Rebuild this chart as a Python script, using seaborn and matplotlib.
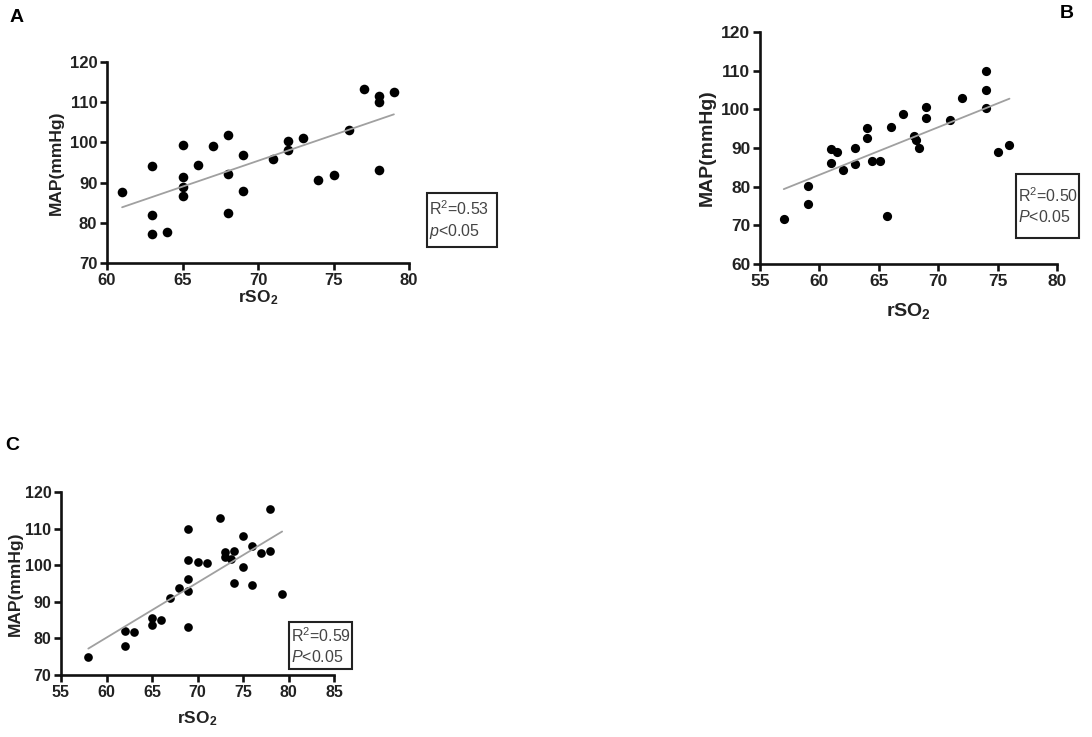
import numpy as np
import pandas as pd
import seaborn as sns
import matplotlib.pyplot as plt

# output
OUT_FILE = "out.png"
W_PX, H_PX, DPI = 1092, 737, 100

# Panel A data (rSO2 vs MAP)
A_RSO2 = [61, 63, 63, 63, 64, 65, 65, 65, 65, 66, 67, 68, 68, 68, 69, 69, 71,
          72, 72, 73, 74, 75, 76, 77, 78, 78, 78, 79]
A_MAP = [87.6, 94.2, 82.0, 77.3, 77.6, 99.3, 91.4, 88.8, 86.6, 94.5, 99.1, 101.8,
         92.1, 82.5, 96.9, 88.0, 95.9, 100.3, 98.2, 101.0, 90.7, 91.8, 103.1, 113.3,
         111.6, 110.1, 93.2, 112.6]

# Panel B data
B_RSO2 = [57, 59, 59, 61, 61, 61.5, 62, 63, 63, 64, 64, 64.4, 65.1, 65.7, 66, 67,
          68, 68.1, 68.4, 69, 69, 71, 72, 74, 74, 74, 75, 76]
B_MAP = [71.6, 80.2, 75.6, 89.8, 86.1, 88.9, 84.3, 90.0, 85.8, 95.2, 92.6, 86.6,
         86.6, 72.3, 95.4, 98.9, 93.0, 92.0, 90.1, 100.6, 97.8, 97.3, 102.9, 110.0,
         104.9, 100.4, 88.9, 90.9]

# Panel C data
C_RSO2 = [58, 62, 62, 63, 65, 65, 66, 67, 68, 69, 69, 69, 69, 69, 70, 71, 72.5,
          73, 73, 73.7, 74, 74, 75, 75, 76, 76, 77, 78, 78, 79.3]
C_MAP = [74.8, 81.9, 77.9, 81.7, 85.5, 83.6, 85.0, 91.0, 93.9, 109.8, 101.4, 96.2,
         92.9, 83.2, 101.0, 100.6, 113.0, 103.6, 102.2, 101.7, 103.9, 95.2, 108.1,
         99.4, 105.2, 94.5, 103.4, 115.3, 103.8, 92.2]

STATS = {"A": ("0.53", "p"), "B": ("0.50", "P"), "C": ("0.59", "P")}

sns.set_style("ticks")
plt.rcParams["font.family"] = ["Liberation Sans", "DejaVu Sans"]
plt.rcParams["mathtext.fontset"] = "custom"
plt.rcParams["mathtext.rm"] = "Liberation Sans"
plt.rcParams["mathtext.it"] = "Liberation Sans:italic"
plt.rcParams["mathtext.bf"] = "Liberation Sans:bold"


def px_rect(left, top, right, bottom):
    # pixel box -> figure fraction [l, b, w, h]
    return [left / W_PX, 1 - bottom / H_PX, (right - left) / W_PX, (bottom - top) / H_PX]


def draw_panel(fig, rect, xs, ys, xlim, ylim, xstep, fs, lfs, dot, key, box, xlab_y, ypad=4):
    ax = fig.add_axes(rect)
    df = pd.DataFrame({"rSO2": xs, "MAP": ys})
    sns.regplot(data=df, x="rSO2", y="MAP", ax=ax, ci=None,
                scatter_kws=dict(s=dot, color="black", linewidths=0, alpha=1),
                line_kws=dict(color="#a0a0a0", lw=1.3))
    ax.set_xlim(*xlim)
    ax.set_ylim(*ylim)
    ax.set_xticks(np.arange(xlim[0], xlim[1] + 1, xstep))
    ax.set_yticks(np.arange(ylim[0], ylim[1] + 1, 10))
    for s in ["top", "right"]:
        ax.spines[s].set_visible(False)
    for s in ["left", "bottom"]:
        ax.spines[s].set_linewidth(1.9)
        ax.spines[s].set_color("#111111")
    ax.tick_params(width=1.9, length=5, color="#111111", labelsize=fs, pad=2)
    for lab in ax.get_xticklabels() + ax.get_yticklabels():
        lab.set_fontweight("bold")
        lab.set_color("#222222")
    ax.set_xlabel("")
    ax.set_ylabel("MAP(mmHg)", fontsize=lfs, fontweight="bold", color="#222222", labelpad=ypad)
    # x label placed in figure pixels
    x0, x1 = rect[0] * W_PX, (rect[0] + rect[2]) * W_PX
    fig.text((x0 + x1) / 2 / W_PX, 1 - xlab_y / H_PX, r"$\mathbf{rSO_2}$",
             ha="center", va="center", fontsize=lfs, color="#222222")
    r2, p = STATS[key]
    bl, bt, br, bb = box
    fig.text((bl + 2) / W_PX, 1 - (bt + bb) / 2 / H_PX,
             "R$^2$=" + r2 + "\n" + "$\\it{" + p + "}$<0.05",
             ha="left", va="center", fontsize=11.5, color="#444444", linespacing=1.3)
    fig.patches.append(plt.Rectangle((bl / W_PX, 1 - bb / H_PX), (br - bl) / W_PX, (bb - bt) / H_PX,
                                     transform=fig.transFigure, fill=False, ec="#222222", lw=1.5))
    return ax


fig = plt.figure(figsize=(W_PX / DPI, H_PX / DPI), dpi=DPI)
fig.patch.set_facecolor("white")

draw_panel(fig, px_rect(107, 62, 409, 263), A_RSO2, A_MAP, (60, 80), (70, 120), 5,
           12, 12.5, 48, "A", (427, 193, 497, 247), 298)
draw_panel(fig, px_rect(760, 32, 1057, 264), B_RSO2, B_MAP, (55, 80), (60, 120), 5,
           12.5, 14, 44, "B", (1016, 174, 1079, 238), 311)
draw_panel(fig, px_rect(61, 492, 334, 675), C_RSO2, C_MAP, (55, 85), (70, 120), 5,
           11.5, 12.5, 39, "C", (289, 622, 352, 669), 719, ypad=1)

for lab, (px, py) in {"A": (17, 17), "B": (1067, 13), "C": (12, 445)}.items():
    fig.text(px / W_PX, 1 - py / H_PX, lab, ha="center", va="center",
             fontsize=14, fontweight="bold", color="black")

fig.savefig(OUT_FILE, dpi=DPI)
print("saved", OUT_FILE)
